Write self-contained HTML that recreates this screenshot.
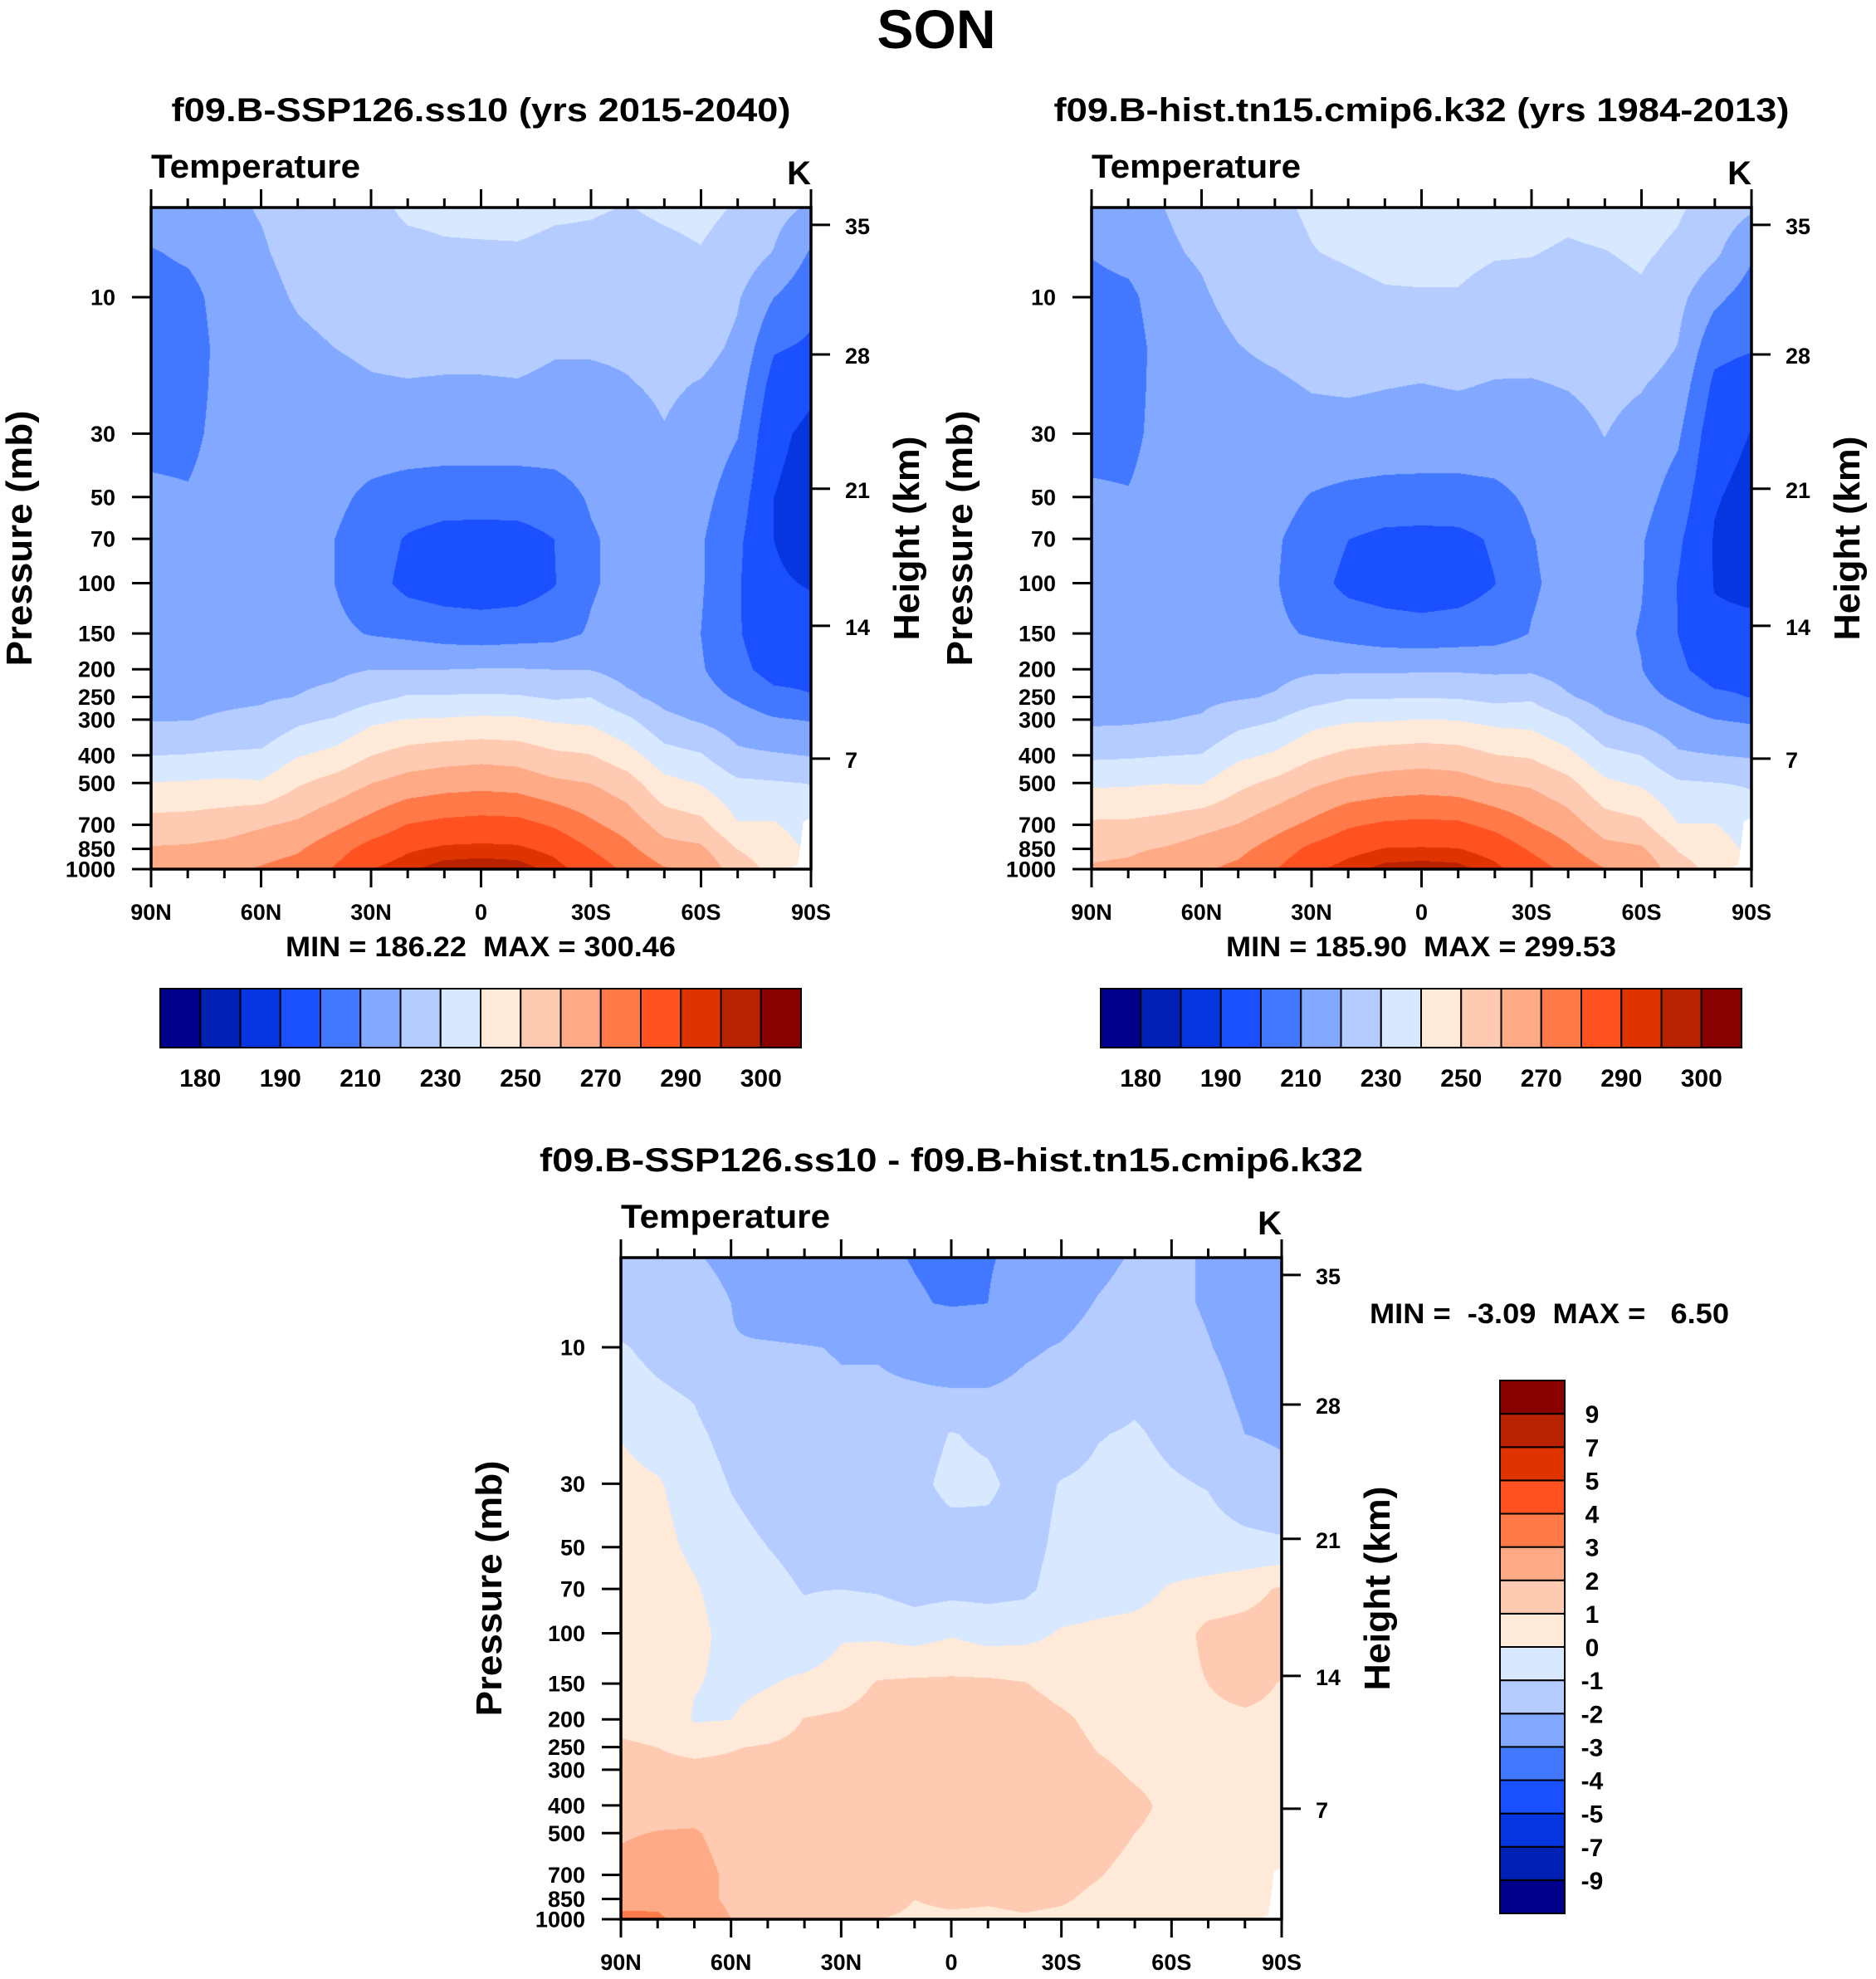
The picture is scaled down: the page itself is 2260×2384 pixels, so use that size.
<!DOCTYPE html>
<html><head><meta charset="utf-8">
<style>
body{margin:0;background:#fff;}
#page{position:relative;width:2260px;height:2384px;background:#fff;overflow:hidden;font-family:"Liberation Sans",Arial,sans-serif;}
canvas{position:absolute;}
svg{position:absolute;left:0;top:0;}
text{font-family:"Liberation Sans",Arial,sans-serif;font-weight:bold;fill:#000;white-space:pre;}
</style></head>
<body>
<div id="page">
<canvas id="cv1" style="left:182px;top:250px" width="795" height="797"></canvas>
<canvas id="cv2" style="left:1315px;top:250px" width="795" height="797"></canvas>
<canvas id="cv3" style="left:748px;top:1515px" width="796" height="797"></canvas>
<svg id="ov" width="2260" height="2384"></svg>
</div>
<script>
// ---------- data ----------
const lats=[90,80,70,60,50,40,30,20,10,0,-10,-20,-30,-40,-50,-60,-70,-80,-90];
const levels=[5,7,10,15,20,30,50,70,100,150,200,250,300,400,500,700,850,1000];
const latTicks=[90,60,30,0,-30,-60,-90];
const latLabels=['90N','60N','30N','0','30S','60S','90S'];
const pTicks=[10,30,50,70,100,150,200,250,300,400,500,700,850,1000];
const kmTicks=[35,28,21,14,7];
const tempLevels=[180,185,190,200,210,220,230,240,250,260,270,280,290,295,300];
const tempLabelIdx=[0,2,4,6,8,10,12,14];
const diffLevels=[-9,-7,-5,-4,-3,-2,-1,0,1,2,3,4,5,7,9];
const palette=['#00008a','#0020b4','#0536e0','#1a50ff','#4278ff','#82a8ff','#b4ccff','#d8e8ff','#ffeada','#ffcab2','#ffaa86','#ff7a48','#ff5220','#e03400','#b82200','#880000'];
// surface pressure breakpoints (below = missing)
const surfLat=[90,-84,-86.5,-88,-90];
const surfVal=[1000,1000,960,680,660];
// SSP126 temperature (K), per latitude column, levels top->bottom
const sspT=[
[216,209,205,204,205,207,212,214,215,216,217,218,219.5,230,240.5,254,261,264],
[217,212,206,204,205,207,211,214,215,216,217,218,219.8,230.5,241,254.5,261.5,265],
[218,217,215,214,214,214,215,215.5,216,216.5,217,218.5,221,231.5,242,256,263,268],
[220.5,219,217,215,214,213,213,214,215,216,217.5,219,222,232,241,259,266,271],
[224,223,221,218,216,214,212,212,213,215,218,220.2,228,239.5,249,262,269,274],
[226,225,223,220,217,214,212,210,210,212,218.5,222,231,243,254,268,276,281],
[228,227,225,222,219,215,208,205,204,209.5,220,227,238,250,260,274,284,290],
[231,228,226,223,219.5,215,206,199,197,208,220,231,240.5,254,264,280.5,289,294],
[231.5,229,227,223,219,215,205,196,195,206,220,231,241,256,266,283,291.5,298],
[232,229,227,223,219,215,205,195.5,194.5,205,220.5,231.5,242,257,267,284,292,299],
[232.5,229,227,223,219.5,215,205,196,195,206,220.5,231,241.5,256,266,283.5,291.5,298],
[231,228,225,221,218,215,206,200,199.5,207,220,229,239,252,262,279,288,293],
[230.5,228,225,221,218,215,211,209,209,211,219.8,230,238,250.5,260,272,280,286],
[229.5,227,224.5,221.5,219.5,216,214,213,213,214,216,222,232,244,254.5,266,272.5,278],
[231,228,225.5,223,221.5,219.5,216,215,214,214,215,217,222.5,234,243,256,264,271],
[232,229.5,227,223.5,219.5,216,213,211,211,210,211,214,219,231,239.5,253,262,269],
[229,226,221,218,215,210.5,205,202,201,201,203,209,215,222,232,241,250,254],
[223,219.5,210,201,196,192,190,190,191,193,196,203,211,221,231,241,246,248],
[218,209,203,198.5,192,188,186.5,186.5,189.5,193,197,200.5,209.5,219.8,229.8,235,238,240]
];
// SSP126 minus hist difference (K)
const diffT=[
[-1.8,-1.6,-0.9,-0.5,-0.05,0.3,0.5,0.6,0.7,0.8,0.9,1.05,1.3,1.6,1.9,2.3,2.6,3.3],
[-1.85,-1.7,-1.3,-0.8,-0.5,0.1,0.3,0.5,0.6,0.7,0.85,1.0,1.2,1.6,2.05,2.6,2.7,3.2],
[-1.95,-1.8,-1.6,-1.05,-0.8,-0.5,-0.2,0.1,0.3,0.05,-0.1,0.8,1.2,1.6,2.1,2.4,2.2,2.4],
[-2.1,-2.0,-1.95,-1.7,-1.35,-1.05,-0.7,-0.5,-0.35,-0.2,0.0,0.95,1.2,1.5,1.6,1.8,1.9,2.0],
[-2.6,-2.5,-1.9,-1.7,-1.6,-1.4,-1.0,-0.7,-0.5,-0.05,0.35,1.1,1.3,1.5,1.5,1.5,1.5,1.5],
[-2.7,-2.7,-1.95,-1.8,-1.7,-1.5,-1.3,-1.05,-0.7,0.2,1.05,1.3,1.4,1.5,1.55,1.5,1.5,1.4],
[-2.8,-2.7,-2.05,-1.9,-1.8,-1.6,-1.4,-1.0,-0.1,0.4,1.2,1.4,1.5,1.6,1.6,1.55,1.5,1.4],
[-2.9,-2.8,-2.05,-1.9,-1.8,-1.7,-1.5,-1.1,-0.2,1.1,1.5,1.6,1.6,1.6,1.6,1.6,1.5,1.0],
[-3.02,-2.95,-2.2,-1.9,-1.5,-1.3,-1.5,-1.4,-0.4,1.2,1.5,1.6,1.6,1.6,1.6,1.3,1.0,0.8],
[-3.1,-3.05,-2.4,-1.9,-0.95,-0.7,-1.5,-1.3,-0.1,1.2,1.6,1.7,1.7,1.6,1.6,1.4,1.2,0.8],
[-3.05,-3.0,-2.4,-1.9,-1.2,-0.8,-1.4,-1.3,-0.4,1.2,1.6,1.7,1.7,1.6,1.6,1.5,1.1,0.8],
[-2.8,-2.6,-2.1,-1.8,-1.6,-1.4,-1.3,-1.2,-0.3,1.05,1.6,1.6,1.6,1.6,1.6,1.5,1.2,0.9],
[-2.5,-2.3,-1.95,-1.7,-1.5,-0.95,-0.8,-0.6,0.1,0.6,1.2,1.4,1.5,1.5,1.45,1.3,1.1,0.8],
[-2.2,-1.95,-1.7,-1.5,-1.05,-0.8,-0.6,-0.4,0.2,0.5,0.7,0.95,1.15,1.35,1.4,1.05,0.8,0.6],
[-1.9,-1.7,-1.5,-1.15,-0.9,-0.7,-0.5,-0.3,0.3,0.5,0.6,0.75,0.9,1.15,1.0,0.7,0.6,0.5],
[-1.9,-1.8,-1.6,-1.4,-1.2,-0.9,-0.6,0.1,0.4,0.6,0.7,0.75,0.8,0.85,0.8,0.6,0.5,0.4],
[-2.05,-2.1,-1.95,-1.7,-1.45,-1.05,-0.6,0.3,1.3,1.0,0.8,0.75,0.7,0.7,0.65,0.6,0.5,0.4],
[-2.4,-2.4,-2.3,-2.15,-2.0,-1.6,-0.7,0.6,1.4,1.3,0.85,0.8,0.75,0.7,0.65,0.55,0.5,0.4],
[-2.5,-2.5,-2.5,-2.4,-2.1,-1.8,-0.8,1.15,1.5,0.95,0.8,0.75,0.7,0.7,0.6,0.5,0.5,0.5]
];
const histT=sspT.map((col,i)=>col.map((v,j)=>v-diffT[i][j]));

// ---------- helpers ----------
const P_TOP=4.86;
const logL=levels.map(p=>Math.log10(p));
function hex(c){return [parseInt(c.substr(1,2),16),parseInt(c.substr(3,2),16),parseInt(c.substr(5,2),16)];}
const palRGB=palette.map(hex);
function bandOf(v,lv){let k=0;while(k<lv.length&&v>=lv[k])k++;return k;}
function sample(grid,f,lp){
  let i0=Math.min(Math.max(Math.floor(f),0),lats.length-2);let fx=f-i0;
  let j=0;while(j<logL.length-2&&lp>logL[j+1])j++;
  let fy=(lp-logL[j])/(logL[j+1]-logL[j]);
  const a=grid[i0][j],b=grid[i0+1][j],c=grid[i0][j+1],d=grid[i0+1][j+1];
  return (a*(1-fx)+b*fx)*(1-fy)+(c*(1-fx)+d*fx)*fy;
}
function surfAt(lat){
  for(let i=0;i<surfLat.length-1;i++){
    if(lat<=surfLat[i]&&lat>=surfLat[i+1]){const t=(surfLat[i]-lat)/(surfLat[i]-surfLat[i+1]);return surfVal[i]*(1-t)+surfVal[i+1]*t;}
  }
  return surfVal[surfVal.length-1];
}
function drawField(id,grid,lv){
  const cv=document.getElementById(id),ctx=cv.getContext('2d');
  const W=cv.width,H=cv.height;const img=ctx.createImageData(W,H);
  const k=H/(3-Math.log10(P_TOP));
  for(let py=0;py<H;py++){
    const lp=3-(H-py)/k;const p=Math.pow(10,lp);
    for(let px=0;px<W;px++){
      const f=px/(W-1)*(lats.length-1);
      const lat=90-px/(W-1)*180;
      const sp=surfAt(lat);
      const o=(py*W+px)*4;
      if(p>sp){img.data[o]=255;img.data[o+1]=255;img.data[o+2]=255;img.data[o+3]=255;continue;}
      const c=palRGB[bandOf(sample(grid,f,lp),lv)];
      img.data[o]=c[0];img.data[o+1]=c[1];img.data[o+2]=c[2];img.data[o+3]=255;
    }
  }
  ctx.putImageData(img,0,0);
}
function kmToP(z){
  if(z<=11)return 1013.25*Math.pow(1-0.0065*z*1000/288.15,5.2559);
  if(z<=20)return 226.32*Math.exp(-(z-11)/6.3416);
  if(z<=32)return 54.749*Math.pow(1+(z-20)/216.65,-34.1632);
  return 8.6802*Math.pow(1+2.8*(z-32)/228.65,-12.2011);
}
const svg=document.getElementById('ov');const NS='http://www.w3.org/2000/svg';
function el(tag,attrs,parent){const e=document.createElementNS(NS,tag);for(const k in attrs)e.setAttribute(k,attrs[k]);(parent||svg).appendChild(e);return e;}
function txt(s,attrs,parent){const e=el('text',attrs,parent);e.textContent=s;return e;}

function panel(P){
  const g=el('g',{});
  
  
  const xOf=lat=>P.x+(90-lat)/180*P.w;
  const k=P.h/(3-Math.log10(P_TOP));
  const yOf=p=>P.y+P.h-(3-Math.log10(p))*k;
  const t=txt(P.title,{x:P.x+P.w/2,y:P.y-104,'text-anchor':'middle','font-size':40,textLength:P.titleLen,lengthAdjust:'spacingAndGlyphs'},g);
  
  
  const lt=txt('Temperature',{x:P.x,y:P.y-36,'font-size':40,textLength:252,lengthAdjust:'spacingAndGlyphs'},g);
  
  
  const ku=txt('K',{x:P.x+P.w,y:P.y-28,'text-anchor':'end','font-size':40},g);
  
  
  const fr=el('rect',{x:P.x,y:P.y,width:P.w,height:P.h,fill:'none',stroke:'#000','stroke-width':3.5},g);
  
  
  for(let lat=90;lat>=-90;lat-=10){
    const x=xOf(lat);const major=(lat%30===0);const L=major?22:11;
    const a=el('line',{x1:x,x2:x,y1:P.y,y2:P.y-L,stroke:'#000','stroke-width':3},g);
    
    
    const b=el('line',{x1:x,x2:x,y1:P.y+P.h,y2:P.y+P.h+L,stroke:'#000','stroke-width':3},g);
    
    
  }
  latTicks.forEach((lat,i)=>{
    const e=txt(latLabels[i],{x:xOf(lat),y:P.y+P.h+61,'text-anchor':'middle','font-size':27},g);
    
    
  });
  pTicks.forEach(p=>{
    const y=yOf(p);
    const l=el('line',{x1:P.x,x2:P.x-23,y1:y,y2:y,stroke:'#000','stroke-width':3},g);
    
    
    const e=txt(String(p),{x:P.x-43,y:y+9.5,'text-anchor':'end','font-size':27},g);
    
    
  });
  kmTicks.forEach(z=>{
    const y=yOf(kmToP(z));
    const l=el('line',{x1:P.x+P.w,x2:P.x+P.w+23,y1:y,y2:y,stroke:'#000','stroke-width':3},g);
    
    
    const e=txt(String(z),{x:P.x+P.w+41,y:y+11,'font-size':27},g);
    
    
  });
  const cy=P.y+P.h/2;
  const pt=txt('Pressure (mb)',{x:0,y:0,'text-anchor':'middle','font-size':44,textLength:308,lengthAdjust:'spacingAndGlyphs',transform:`translate(${P.x-144},${cy}) rotate(-90)`},g);
  
  
  const ht=txt('Height (km)',{x:0,y:0,'text-anchor':'middle','font-size':44,textLength:246,lengthAdjust:'spacingAndGlyphs',transform:`translate(${P.x+P.w+130},${cy}) rotate(-90)`},g);
  
  
}

function hColorbar(x,y,w,h,lv,labelIdx,name){
  const g=el('g',{});
  
  
  const bw=w/palette.length;
  palette.forEach((c,i)=>{
    const r=el('rect',{x:x+i*bw,y:y,width:bw,height:h,fill:c,stroke:'#000','stroke-width':2},g);
    
    
  });
  labelIdx.forEach(i=>{
    const e=txt(String(lv[i]),{x:x+(i+1)*bw,y:y+h+47,'text-anchor':'middle','font-size':30},g);
    
    
  });
}
function vColorbar(x,y,w,h,lv,name){
  const g=el('g',{});
  
  
  const bh=h/palette.length;const n=palette.length;
  palette.forEach((c,i)=>{
    const r=el('rect',{x:x,y:y+(n-1-i)*bh,width:w,height:bh,fill:c,stroke:'#000','stroke-width':2},g);
    
    
  });
  lv.forEach((v,i)=>{
    const e=txt(String(v),{x:x+w+33,y:y+(n-1-i)*bh+11,'text-anchor':'middle','font-size':30},g);
    
    
  });
}

drawField('cv1',sspT,tempLevels);
drawField('cv2',histT,tempLevels);
drawField('cv3',diffT,diffLevels);

const main=txt('SON',{x:1128,y:58,'text-anchor':'middle','font-size':66});



panel({name:'ssp126-panel',x:182,y:250,w:795,h:797,title:'f09.B-SSP126.ss10 (yrs 2015-2040)',titleLen:746});
panel({name:'hist-panel',x:1315,y:250,w:795,h:797,title:'f09.B-hist.tn15.cmip6.k32 (yrs 1984-2013)',titleLen:886});
panel({name:'difference-panel',x:748,y:1515,w:796,h:797,title:'f09.B-SSP126.ss10 - f09.B-hist.tn15.cmip6.k32',titleLen:992});

const m1=txt('MIN = 186.22  MAX = 300.46',{x:579,y:1152,'text-anchor':'middle','font-size':34,textLength:470,lengthAdjust:'spacingAndGlyphs'});


const m2=txt('MIN = 185.90  MAX = 299.53',{x:1712,y:1152,'text-anchor':'middle','font-size':34,textLength:470,lengthAdjust:'spacingAndGlyphs'});


const m3=txt('MIN =  -3.09  MAX =   6.50',{x:1650,y:1594,'font-size':34,textLength:433,lengthAdjust:'spacingAndGlyphs'});



hColorbar(193,1191,772,71,tempLevels,tempLabelIdx,'ssp126-colorbar');
hColorbar(1326,1191,772,71,tempLevels,tempLabelIdx,'hist-colorbar');
vColorbar(1807,1663,78,642,diffLevels,'difference-colorbar');
</script>
</body></html>
